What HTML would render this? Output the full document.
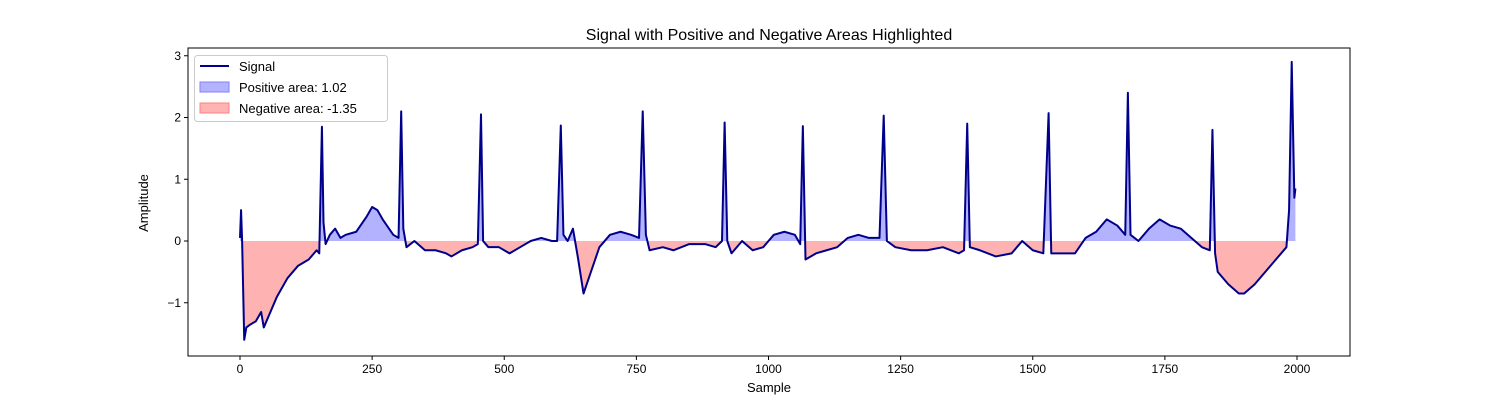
<!DOCTYPE html>
<html><head><meta charset="utf-8"><style>
body{margin:0;background:#fff;}
svg text{font-family:"Liberation Sans",sans-serif;fill:#000;}
</style></head><body>
<svg id="chart" width="1500" height="400" xmlns="http://www.w3.org/2000/svg">
<rect width="1500" height="400" fill="#fff"/>
<text x="769" y="40" font-size="16" text-anchor="middle">Signal with Positive and Negative Areas Highlighted</text>
<g id="plot"></g>
<text x="769" y="392" font-size="13" text-anchor="middle">Sample</text>
<text x="148" y="203" font-size="13" text-anchor="middle" transform="rotate(-90 148 203)">Amplitude</text>
<g>
<rect x="194.5" y="55.5" width="193" height="66" rx="3" fill="#fff" fill-opacity="0.8" stroke="#ccc"/>
<g><line x1="200" y1="66" x2="229" y2="66" stroke="#00008b" stroke-width="2"/><text x="239" y="71" font-size="13">Signal</text></g>
<g><rect x="200" y="82" width="29" height="10" fill="#b3b3ff" stroke="#8080ff"/><text x="239" y="92" font-size="13">Positive area: 1.02</text></g>
<g><rect x="200" y="103" width="29" height="10" fill="#ffb3b3" stroke="#ff8080"/><text x="239" y="113" font-size="13">Negative area: -1.35</text></g>
</g>
</svg>
<script>
const sampleIdx=[0,2,4,8,12,20,30,40,45,55,70,90,110,130,145,150,155,158,162,170,180,190,200,220,240,250,260,270,290,300,305,309,315,330,350,370,390,400,420,440,450,456,460,470,490,510,530,550,570,590,600,607,612,620,630,640,650,660,680,700,720,740,755,762,768,775,800,820,850,880,900,912,917,922,930,950,970,990,1000,1010,1030,1050,1060,1065,1070,1090,1110,1130,1150,1170,1190,1210,1218,1224,1240,1270,1300,1330,1360,1370,1376,1381,1400,1430,1460,1480,1500,1520,1530,1535,1550,1580,1600,1620,1640,1660,1675,1680,1685,1700,1720,1740,1760,1780,1800,1820,1835,1840,1845,1850,1870,1890,1900,1920,1940,1960,1980,1985,1990,1995,1997];
const signalVals=[0.05,0.5,0.0,-1.6,-1.4,-1.35,-1.3,-1.15,-1.4,-1.2,-0.9,-0.6,-0.4,-0.3,-0.15,-0.2,1.85,0.3,-0.05,0.1,0.2,0.05,0.1,0.15,0.4,0.55,0.5,0.35,0.1,0.05,2.1,0.2,-0.1,0.0,-0.15,-0.15,-0.2,-0.25,-0.15,-0.1,-0.05,2.05,0.0,-0.1,-0.1,-0.2,-0.1,0.0,0.05,0.0,0.0,1.87,0.1,0.0,0.2,-0.3,-0.85,-0.6,-0.1,0.1,0.15,0.1,0.05,2.1,0.1,-0.15,-0.1,-0.15,-0.05,-0.05,-0.1,0.0,1.92,0.0,-0.2,0.0,-0.15,-0.1,0.0,0.1,0.15,0.1,-0.05,1.86,-0.3,-0.2,-0.15,-0.1,0.05,0.1,0.05,0.05,2.03,0.0,-0.1,-0.15,-0.15,-0.1,-0.2,-0.15,1.9,-0.1,-0.15,-0.25,-0.2,0.0,-0.15,-0.2,2.07,-0.2,-0.2,-0.2,0.05,0.15,0.35,0.25,0.1,2.4,0.1,0.0,0.2,0.35,0.25,0.2,0.05,-0.1,-0.15,1.8,-0.2,-0.5,-0.7,-0.85,-0.85,-0.7,-0.5,-0.3,-0.1,0.5,2.9,0.7,0.85];
const xTicks=[0,250,500,750,1000,1250,1500,1750,2000];
const yTicks=[-1,0,1,2,3];
const L=188,R=1350,T=48,B=356;
const xs=v=>240+v*(1297-240)/2000;
const ys=v=>241-v*61.75;
const NS='http://www.w3.org/2000/svg';
const plot=document.getElementById('plot');
function mk(tag,attrs,parent){const e=document.createElementNS(NS,tag);for(const k in attrs)e.setAttribute(k,attrs[k]);(parent||plot).appendChild(e);return e;}
const defs=mk('defs',{});
const cp=mk('clipPath',{id:'cpPos'},defs);mk('rect',{x:L,y:T,width:R-L,height:ys(0)-T},cp);
const cn=mk('clipPath',{id:'cpNeg'},defs);mk('rect',{x:L,y:ys(0),width:R-L,height:B-ys(0)},cn);
let pts=sampleIdx.map((s,i)=>xs(s).toFixed(2)+','+ys(signalVals[i]).toFixed(2));
const area='M'+xs(sampleIdx[0])+','+ys(0)+' L'+pts.join(' L')+' L'+xs(sampleIdx[sampleIdx.length-1])+','+ys(0)+'Z';
const pa=mk('path',{d:area,fill:'#0000ff','fill-opacity':0.3,'clip-path':'url(#cpPos)'});


const na=mk('path',{d:area,fill:'#ff0000','fill-opacity':0.3,'clip-path':'url(#cpNeg)'});


const ln=mk('polyline',{points:pts.join(' '),fill:'none',stroke:'#00008b','stroke-width':2,'stroke-linejoin':'round'});


const frame=mk('rect',{x:L,y:T,width:R-L,height:B-T,fill:'none',stroke:'#000','stroke-width':1});


xTicks.forEach(t=>{const x=xs(t);mk('line',{x1:x,x2:x,y1:B,y2:B+4,stroke:'#000'});
const tx=mk('text',{x:x,y:B+17,'font-size':12,'text-anchor':'middle'});tx.textContent=t;

});
yTicks.forEach(t=>{const y=ys(t);mk('line',{x1:L-4,x2:L,y1:y,y2:y,stroke:'#000'});
const tx=mk('text',{x:L-7,y:y+4,'font-size':12,'text-anchor':'end'});tx.textContent=(t<0?'\u2212'+(-t):t);

});
</script>
</body></html>
